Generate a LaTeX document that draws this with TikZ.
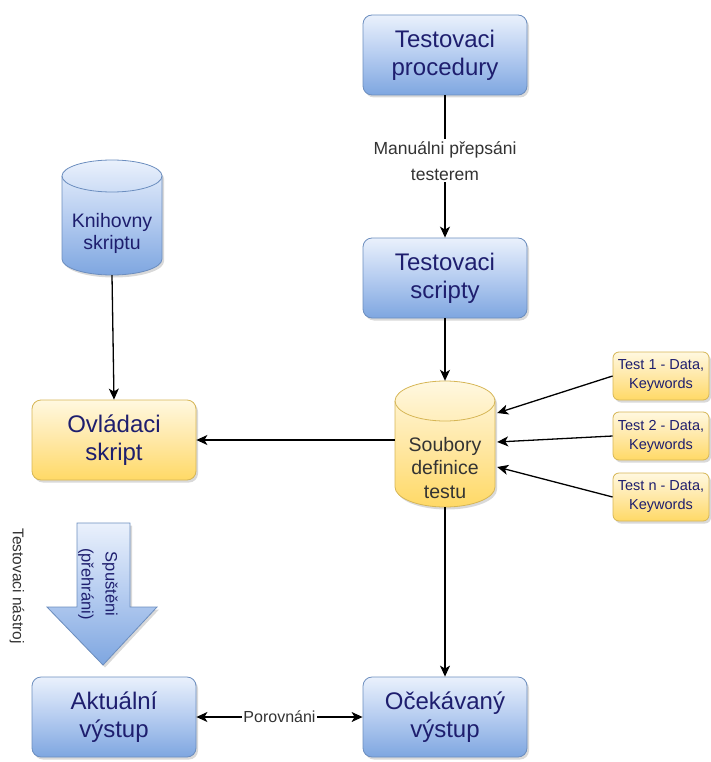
\documentclass[tikz,border=0pt]{standalone}
\usepackage{fontspec}
\setmainfont{Liberation Sans}
\usetikzlibrary{arrows.meta,shadows}

\definecolor{blueTop}{HTML}{EAF1FC}
\definecolor{blueMid}{HTML}{B5CCF0}
\definecolor{blueBot}{HTML}{7EA6E0}
\definecolor{blueLine}{HTML}{6C8EBF}
\definecolor{yelTop}{HTML}{FFF8E0}
\definecolor{yelMid}{HTML}{FFE8A6}
\definecolor{yelBot}{HTML}{FFD966}
\definecolor{yelLine}{HTML}{D6B656}
\definecolor{navy}{HTML}{1E1E6E}
\definecolor{labelgray}{HTML}{333333}

\begin{document}
\begin{tikzpicture}[x=1pt,y=-1pt,
  shadowed/.style={drop shadow={shadow xshift=2pt,shadow yshift=-2.5pt,opacity=0.3}},
  bluefill/.style={top color=blueTop,bottom color=blueBot,middle color=blueMid,draw=blueLine,line width=0.8pt},
  yelfill/.style={top color=yelTop,bottom color=yelBot,middle color=yelMid,draw=yelLine,line width=0.8pt},
  bigbox/.style={shadowed,rounded corners=9pt,minimum width=164pt,minimum height=80pt,
    align=center,text=navy,font=\fontsize{24}{28}\selectfont},
  bluebox/.style={bigbox,bluefill},
  yelbox/.style={bigbox,yelfill},
  testbox/.style={shadowed,yelfill,rounded corners=6pt,minimum width=96pt,minimum height=48pt,
    inner sep=1pt,align=center,text=navy,font=\fontsize{14.5}{19}\selectfont},
  area/.style={rectangle,inner sep=0pt},
  cyltext/.style={align=center},
  arr/.style={line width=1.3pt,-{Stealth[length=11pt,width=10pt,inset=3pt]}},
  biarr/.style={line width=1.3pt,{Stealth[length=11pt,width=10pt,inset=3pt]}-{Stealth[length=11pt,width=10pt,inset=3pt]}},
  lbl/.style={fill=white,inner sep=2pt,align=center,text=labelgray},
]
\useasboundingbox (0,0) rectangle (711,762);

% rounded boxes
\node[bluebox] (proc) at (445,55) {Testovaci\\procedury};
\node[bluebox] (scripty) at (445,278) {Testovaci\\scripty};
\node[yelbox] (ovl) at (114,440) {Ovládaci\\skript};
\node[bluebox] (akt) at (114,717) {Aktuální\\výstup};
\node[bluebox] (oce) at (445,717) {Očekávaný\\výstup};

% test definition inputs
\node[testbox] (t1) at (661,376) {Test 1 - Data,\\Keywords};
\node[testbox] (t2) at (661,436) {Test 2 - Data,\\Keywords};
\node[testbox] (t3) at (661,497) {Test n - Data,\\Keywords};

% cylinder: script library
\path[shadowed,bluefill] (62,176) -- (62,259)
  arc[start angle=180,end angle=360,x radius=50pt,y radius=16pt] -- (162,176)
  arc[start angle=0,end angle=180,x radius=50pt,y radius=16pt] -- cycle;
\draw[blueLine,line width=0.8pt] (62,176) arc[start angle=180,end angle=360,x radius=50pt,y radius=16pt];
\node[area,minimum width=100pt,minimum height=115pt] (knih) at (112,217.5) {};
\node[cyltext,text=navy,font=\fontsize{19.5}{22}\selectfont] (knihtext) at (112,233) {Knihovny\\skriptu};

% cylinder: test definition files
\path[shadowed,yelfill] (395,401) -- (395,487)
  arc[start angle=180,end angle=360,x radius=50pt,y radius=20pt] -- (495,401)
  arc[start angle=0,end angle=180,x radius=50pt,y radius=20pt] -- cycle;
\draw[yelLine,line width=0.8pt] (395,401) arc[start angle=180,end angle=360,x radius=50pt,y radius=20pt];
\node[area,minimum width=100pt,minimum height=126pt] (soub) at (445,444) {};
\node[cyltext,text=labelgray,font=\fontsize{19.5}{23.5}\selectfont] (soubtext) at (445,468) {Soubory\\definice\\testu};

% execution arrow
\path[shadowed,bluefill] (77,523) -- (130,523) -- (130,607) -- (157,607) -- (103,665)
  -- (47,607) -- (77,607) -- cycle;
\node[rotate=-90,align=center,text=navy,font=\fontsize{16.5}{24}\selectfont] (spust) at (98,584) {Spuštěni\\(přehráni)};
\node[rotate=-90,text=labelgray,font=\fontsize{15.5}{17}\selectfont] (nastroj) at (17,586) {Testovaci nástroj};

% connectors
\draw[arr] (proc) -- node[lbl,pos=0.46,font=\fontsize{17.5}{26}\selectfont] (manual) {Manuálni přepsáni\\testerem} (scripty);
\draw[arr] (scripty) -- (soub.north);
\draw[arr] (knih.south) -- (ovl.north);
\draw[arr] (soub.west |- ovl.east) -- (ovl.east);
\draw[arr] (t1.west) -- ([xshift=2pt,yshift=31pt]soub.east);
\draw[arr] (t2.west) -- ([xshift=2pt,yshift=2pt]soub.east);
\draw[arr] (t3.west) -- ([xshift=2pt,yshift=-23pt]soub.east);
\draw[arr] (soub.south) -- (oce.north);
\draw[biarr] (akt) -- node[lbl,inner sep=1pt,font=\fontsize{16}{18}\selectfont] (por) {Porovnáni} (oce);
\end{tikzpicture}
\end{document}
